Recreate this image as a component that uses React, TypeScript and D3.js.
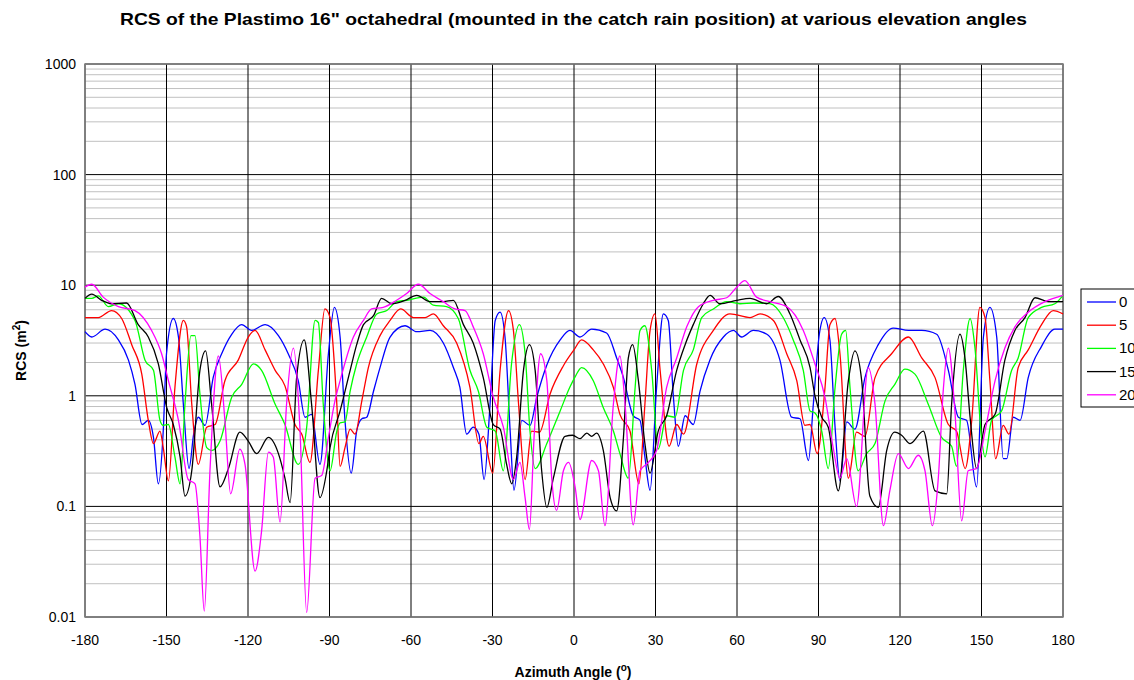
import React from "react";
import * as d3 from "d3";

const seriesNames = ["0", "5", "10", "15", "20"];
const seriesColors = ["#0000ff", "#ff0000", "#00ff00", "#000000", "#ff00ff"];
const xTicks = [-180, -150, -120, -90, -60, -30, 0, 30, 60, 90, 120, 150, 180];
const yTicks = [0.01, 0.1, 1, 10, 100, 1000];

const elev0: [number, number][] = [
  [-180,3.8],[-177.5,3.4],[-172.6,4.0],[-167.7,3.2],[-164,2.1],[-161.6,1.27],[-159,0.55],[-156.7,0.6],[-154.8,0.42],[-153,0.16],[-151.2,0.48],[-150,2.4],[-147.5,5.0],[-145.6,3.4],[-143.8,0.84],[-141.7,0.22],[-140,0.45],[-138.3,0.64],[-135.8,0.54],[-132.8,1.47],[-129.7,2.4],[-126,3.6],[-122.3,4.4],[-118.7,3.9],[-113.7,4.4],[-108.8,3.5],[-105.2,2.4],[-101.5,1.37],[-99,0.64],[-96.6,0.68],[-93.5,0.24],[-90.4,2.4],[-88.2,6.3],[-86.1,3.4],[-84.3,0.6],[-82,0.2],[-80,0.48],[-78.1,0.62],[-76.3,0.64],[-73.8,1.1],[-71.4,1.8],[-67.7,3.4],[-62.2,4.3],[-57.9,3.8],[-53,3.9],[-48.1,3.0],[-44.4,1.8],[-42,1.19],[-39.5,0.45],[-37.1,0.52],[-35,0.45],[-33.1,0.175],[-30.9,0.84],[-29,4.8],[-27.2,5.7],[-25.4,3.4],[-23.5,0.48],[-22.1,0.14],[-19.2,0.6],[-16.2,0.54],[-13.7,0.97],[-10,1.9],[-5.1,3.2],[-1.5,3.9],[2.2,3.4],[6.5,4.0],[12,3.7],[15.7,2.2],[18.2,1.46],[21.8,0.66],[24.3,0.6],[26.1,0.28],[28,0.14],[30.4,1.19],[32.9,5.5],[34.7,4.8],[36.6,0.97],[38.4,0.35],[40.9,0.66],[43.9,0.55],[46.4,1.1],[50,2.1],[55,3.4],[58.7,3.9],[61.7,3.4],[66,3.9],[71,3.6],[75.8,2.1],[80.1,0.64],[83.2,0.62],[86.3,0.26],[88.1,0.84],[90.3,3.6],[92.1,5.1],[94.2,3.2],[96.1,0.52],[97.9,0.17],[100.4,0.58],[103.4,0.5],[107.1,1.46],[112,2.9],[117.5,4.1],[123.1,3.9],[128,3.9],[133.5,3.6],[137.8,1.7],[141.5,0.64],[144.5,0.6],[148.2,0.15],[150.7,3.4],[153.1,6.3],[155.6,3.4],[158,0.27],[159.3,0.27],[161.7,0.64],[164.2,0.6],[167.2,1.46],[172.1,2.8],[177,4.0],[180,4.0],
];
const elev5: [number, number][] = [
  [-180,5.1],[-175.1,5.1],[-170.2,5.9],[-166.5,5.0],[-162.8,2.9],[-159.1,1.57],[-156.7,0.6],[-154.8,0.37],[-152.4,0.48],[-151.2,0.34],[-149.3,0.17],[-146.9,1.19],[-143.8,4.8],[-142.6,4.2],[-140.7,0.84],[-138.3,0.24],[-135.2,0.52],[-132.1,0.55],[-128.5,1.37],[-123.6,2.1],[-119.9,3.4],[-117.4,3.9],[-113.7,2.6],[-110,1.7],[-106.4,1.23],[-102.7,0.55],[-100.2,0.45],[-97.2,0.25],[-94.1,1.7],[-91.7,6.1],[-89.8,5.1],[-87.3,0.84],[-86.1,0.23],[-84.3,0.34],[-82.4,0.5],[-80.6,0.45],[-78.1,0.9],[-75.7,1.8],[-71.4,3.5],[-67.7,4.8],[-63.8,6.1],[-59.1,5.1],[-54.8,5.1],[-51.8,5.5],[-48.1,4.3],[-43.2,3.0],[-38.3,1.19],[-35,0.37],[-33.4,0.43],[-29.9,0.2],[-27.2,1.7],[-24.1,5.9],[-22.3,3.9],[-20.4,0.84],[-18,0.175],[-15.6,0.48],[-12.7,0.47],[-8.8,1.04],[-3.9,1.87],[0,2.6],[2.8,3.2],[7.1,2.6],[10.8,1.94],[14.5,1.19],[16.9,0.68],[20.6,0.48],[23.9,0.16],[26.1,0.84],[28,3.9],[29.8,5.5],[31.7,1.7],[35,0.35],[37.8,0.55],[40.3,0.45],[45.2,1.94],[51.3,3.9],[57.4,5.5],[64.8,5.1],[68.5,5.5],[73.4,4.8],[78.3,2.4],[82,1.37],[85,0.54],[86.9,0.55],[89.5,0.3],[92.4,1.19],[94.2,4.4],[96.1,5.0],[97.9,2.4],[101,0.18],[104,0.47],[107.1,0.43],[110.8,1.46],[116.9,2.4],[123.1,3.4],[128,2.2],[132.9,1.46],[137.8,0.55],[140.8,0.48],[144,0.22],[146.4,0.6],[149.4,6.3],[151.3,5.1],[153.1,1.37],[155.2,0.27],[158,0.54],[160.1,0.45],[163.5,1.8],[167.2,2.6],[172.1,4.4],[176.4,5.9],[180,5.5],
];
const elev10: [number, number][] = [
  [-180,7.6],[-177.5,7.6],[-175.1,8.0],[-171.4,6.4],[-167.7,6.8],[-161.6,4.8],[-157.9,2.1],[-154.8,1.7],[-152.4,0.6],[-151.2,0.54],[-149.3,0.55],[-146.9,0.28],[-145,0.16],[-143.2,0.84],[-141,3.5],[-139.5,3.5],[-137.7,1.04],[-135.2,0.34],[-133.4,0.32],[-130.3,0.39],[-126,0.97],[-122.3,1.27],[-118,1.94],[-115,1.7],[-110,0.84],[-106.4,0.55],[-101.5,0.24],[-98.4,0.52],[-95.3,4.8],[-94.1,4.6],[-92.3,0.84],[-89.8,0.21],[-87.3,0.48],[-86.1,0.57],[-84.3,0.58],[-82.4,1.1],[-80,1.94],[-76.3,3.4],[-72.6,5.5],[-68.9,5.9],[-65.3,7.1],[-61.6,7.3],[-55.4,7.8],[-51.8,6.6],[-46.9,6.4],[-42.6,5.0],[-38.3,1.7],[-35.2,1.1],[-32.1,0.52],[-29,0.48],[-26,0.21],[-23,1.94],[-20.1,4.4],[-18,2.4],[-16.2,0.48],[-14.3,0.22],[-10,0.37],[-5.1,0.73],[-1.5,1.2],[0.5,1.5],[2.8,1.8],[7.1,1.37],[10.8,0.78],[14.5,0.48],[16.9,0.3],[20,0.18],[22.5,1.19],[24.3,3.9],[26.1,4.3],[28.6,1.7],[31,0.33],[34.1,0.66],[37.2,0.64],[40.3,1.7],[43.9,2.6],[47,5.1],[51.3,6.1],[56.2,7.1],[61.1,6.8],[66,6.9],[72.1,6.8],[77,5.1],[80.7,3.2],[84.4,1.7],[86.9,0.73],[88.7,0.7],[91.2,0.48],[93.6,0.22],[96.1,1.19],[98.5,3.6],[100,3.9],[101.6,1.19],[104.6,0.21],[107.7,0.3],[110.8,0.37],[114.5,0.9],[118.1,1.27],[121.8,1.74],[125.5,1.57],[130.4,0.84],[135.3,0.42],[139,0.35],[140.8,0.23],[143.3,1.7],[145.8,5.0],[147.6,2.7],[150,0.42],[151.3,0.28],[153.7,0.6],[157.4,0.73],[161.1,1.7],[163.5,2.2],[167.2,5.1],[172.1,6.3],[177,6.8],[180,8.1],
];
const elev15: [number, number][] = [
  [-180,7.6],[-177.5,8.3],[-173.9,7.3],[-170.2,6.8],[-164.7,6.9],[-160.4,4.4],[-156.7,3.4],[-153,1.94],[-149.9,0.78],[-147.5,0.55],[-145,0.28],[-143.2,0.124],[-140.7,0.21],[-137.7,1.7],[-135.6,2.55],[-133.4,0.84],[-130.3,0.15],[-127.2,0.22],[-123,0.47],[-119.9,0.39],[-116.8,0.3],[-112.5,0.42],[-108.8,0.3],[-106.4,0.18],[-104.5,0.108],[-102.1,1.46],[-99.3,3.2],[-96.6,0.84],[-93.5,0.12],[-91,0.21],[-89.8,0.34],[-86.1,0.73],[-82.4,1.7],[-80,2.9],[-77.5,4.4],[-73.8,5.3],[-70.8,7.6],[-67.1,6.8],[-62.2,7.3],[-57.9,8.1],[-53,7.1],[-48.1,7.1],[-44.4,7.3],[-40.7,4.4],[-37.1,3.0],[-33.4,1.46],[-29.7,0.55],[-27.2,0.5],[-24.8,0.24],[-22.9,0.16],[-21.1,0.28],[-18.6,1.7],[-16.4,2.9],[-14.3,1.7],[-11.9,0.21],[-10,0.098],[-7.6,0.18],[-3.3,0.43],[-0.5,0.44],[2.2,0.41],[4.7,0.46],[6.5,0.43],[8.3,0.46],[10.8,0.32],[13.3,0.12],[15.7,0.091],[18.2,0.42],[20,2.2],[21.6,2.9],[23.7,1.37],[26.1,0.37],[28,0.2],[31,0.48],[34.1,0.66],[37.8,1.7],[40.9,2.9],[43.9,4.4],[47.6,6.8],[50.1,8.1],[53.7,6.8],[59.9,7.3],[64.8,7.6],[70.9,6.8],[75.2,7.9],[79.5,5.5],[83.2,3.2],[86.9,1.8],[88.7,1.0],[91.2,0.64],[93.6,0.52],[97.3,0.138],[101,1.37],[103.4,2.55],[105.9,1.37],[108.9,0.124],[112,0.098],[115.1,0.32],[118.1,0.47],[120.6,0.44],[123.7,0.37],[128.6,0.48],[132.9,0.138],[137.2,0.13],[139,0.84],[142.1,3.6],[143.9,2.2],[145.8,0.64],[148.2,0.22],[151.3,0.55],[155,0.68],[158.6,2.1],[162.3,3.9],[166,5.1],[169.7,7.7],[174.6,7.1],[180,7.1],
];
const elev20: [number, number][] = [
  [-180,9.6],[-177.5,10.2],[-173.3,7.8],[-167.7,6.4],[-161.6,5.9],[-155.5,3.9],[-151.8,2.4],[-149.3,1.37],[-145.6,0.6],[-142,0.175],[-139.5,0.16],[-137.7,0.054],[-136.1,0.0113],[-134,0.21],[-130.9,2.3],[-128.5,0.6],[-126.4,0.13],[-123,0.33],[-121.1,0.24],[-117.4,0.026],[-115,0.06],[-112.5,0.31],[-110.7,0.28],[-108.2,0.072],[-105.8,0.84],[-103.3,2.7],[-100.9,0.52],[-98.4,0.011],[-95.3,0.18],[-92.9,0.19],[-90.4,0.42],[-88,0.9],[-86.1,1.37],[-81.2,3.4],[-77.5,4.8],[-74.5,6.1],[-70.2,6.3],[-65.3,7.3],[-61.6,8.4],[-57.3,10.2],[-53,8.4],[-48.1,7.1],[-43.8,6.1],[-40.1,5.9],[-37.1,4.2],[-33.4,2.4],[-29.7,0.97],[-26,0.52],[-22.3,0.175],[-19.9,0.25],[-18,0.12],[-16.4,0.062],[-14.7,0.42],[-12.3,2.4],[-10,1.37],[-8.2,0.18],[-6.4,0.092],[-3.9,0.21],[-2,0.25],[0.4,0.15],[2.2,0.076],[6.5,0.26],[9,0.21],[11.4,0.067],[14.5,0.84],[16.9,2.3],[18.8,0.84],[21.8,0.068],[24.3,0.21],[27.4,0.25],[30.4,0.32],[34.1,1.19],[37.8,2.2],[41.5,4.2],[45.8,6.4],[51.3,7.3],[56.2,7.7],[59.9,9.6],[62.9,11.0],[67.2,7.8],[72.1,7.1],[78.3,6.4],[84.4,3.9],[88.7,1.94],[92.4,0.97],[95.4,0.34],[97.9,0.18],[100.4,0.27],[104,0.1],[108.3,1.8],[110.8,0.84],[113.9,0.067],[116.3,0.14],[119.4,0.3],[123.1,0.22],[126.7,0.29],[129.2,0.21],[131.9,0.067],[134.1,0.18],[136,1.19],[137.8,2.7],[140.2,0.73],[142.7,0.074],[145.1,0.21],[148.2,0.22],[151.3,0.48],[155,1.37],[158.6,2.7],[162.3,4.2],[167.2,5.7],[173.4,7.1],[180,8.1],
];
const allSeries = [elev0, elev5, elev10, elev15, elev20];

const W = 1134, H = 680;
const M = { left: 85, right: 1063, top: 64, bottom: 617 };

export default function App() {
  const x = d3.scaleLinear().domain([-180, 180]).range([M.left, M.right]);
  const y = d3.scaleLog().domain([0.01, 1000]).range([M.bottom, M.top]);
  const minor: number[] = [];
  for (let e = -2; e < 3; e++) for (let k = 2; k <= 9; k++) minor.push(k * Math.pow(10, e));
  const line = d3.line<[number, number]>().x(d => x(d[0])).y(d => y(d[1])).curve(d3.curveMonotoneX);
  const font = "Arial, 'Liberation Sans', sans-serif";
  return (
    <svg width={W} height={H} style={{ position: "absolute", left: 0, top: 0, background: "#fff" }} fontFamily={font}>
      <rect x={0} y={0} width={W} height={H} fill="#fff" />
      <text x={120} y={25} fontSize={16.5} fontWeight="bold" textLength={907} lengthAdjust="spacingAndGlyphs">
        RCS of the Plastimo 16" octahedral (mounted in the catch rain position) at various elevation angles
      </text>
      {minor.map((v, i) => (
        <line key={"m" + i} x1={M.left} x2={M.right} y1={y(v)} y2={y(v)} stroke="#c0c0c0" strokeWidth={1} />
      ))}
      {yTicks.map(v => (
        <line key={"y" + v} x1={M.left} x2={M.right} y1={y(v)} y2={y(v)} stroke="#000" strokeWidth={1} />
      ))}
      {xTicks.map(v => (
        <line key={"x" + v} x1={x(v)} x2={x(v)} y1={M.top} y2={M.bottom} stroke="#000" strokeWidth={1} />
      ))}
      <rect x={M.left} y={M.top} width={M.right - M.left} height={M.bottom - M.top} fill="none" stroke="#808080" strokeWidth={1.5} />
      {allSeries.map((s, i) => (
        <path key={i} d={line(s) || ""} fill="none" stroke={seriesColors[i]} strokeWidth={1.3} />
      ))}
      {yTicks.map(v => (
        <text key={"yl" + v} x={76} y={y(v) + 5} textAnchor="end" fontSize={14}>{String(v)}</text>
      ))}
      {xTicks.map(v => (
        <text key={"xl" + v} x={x(v)} y={645} textAnchor="middle" fontSize={14}>{String(v)}</text>
      ))}
      <text x={573} y={677} textAnchor="middle" fontSize={14} fontWeight="bold">
        Azimuth Angle (<tspan dy={-6} fontSize={10}>o</tspan><tspan dy={6}>)</tspan>
      </text>
      <text transform={`translate(26,${(M.top + M.bottom) / 2 + 10}) rotate(-90)`} textAnchor="middle" fontSize={14} fontWeight="bold">
        RCS (m<tspan dy={-6} fontSize={10}>2</tspan><tspan dy={6}>)</tspan>
      </text>
      <rect x={1081} y={289} width={80} height={118} fill="#fff" stroke="#000" strokeWidth={1} />
      {seriesNames.map((n, i) => {
        const yy = 302 + i * 23.2;
        return (
          <g key={n}>
            <line x1={1087} x2={1116} y1={yy} y2={yy} stroke={seriesColors[i]} strokeWidth={1.3} />
            <text x={1119} y={yy + 5} fontSize={15}>{n}</text>
          </g>
        );
      })}
    </svg>
  );
}
